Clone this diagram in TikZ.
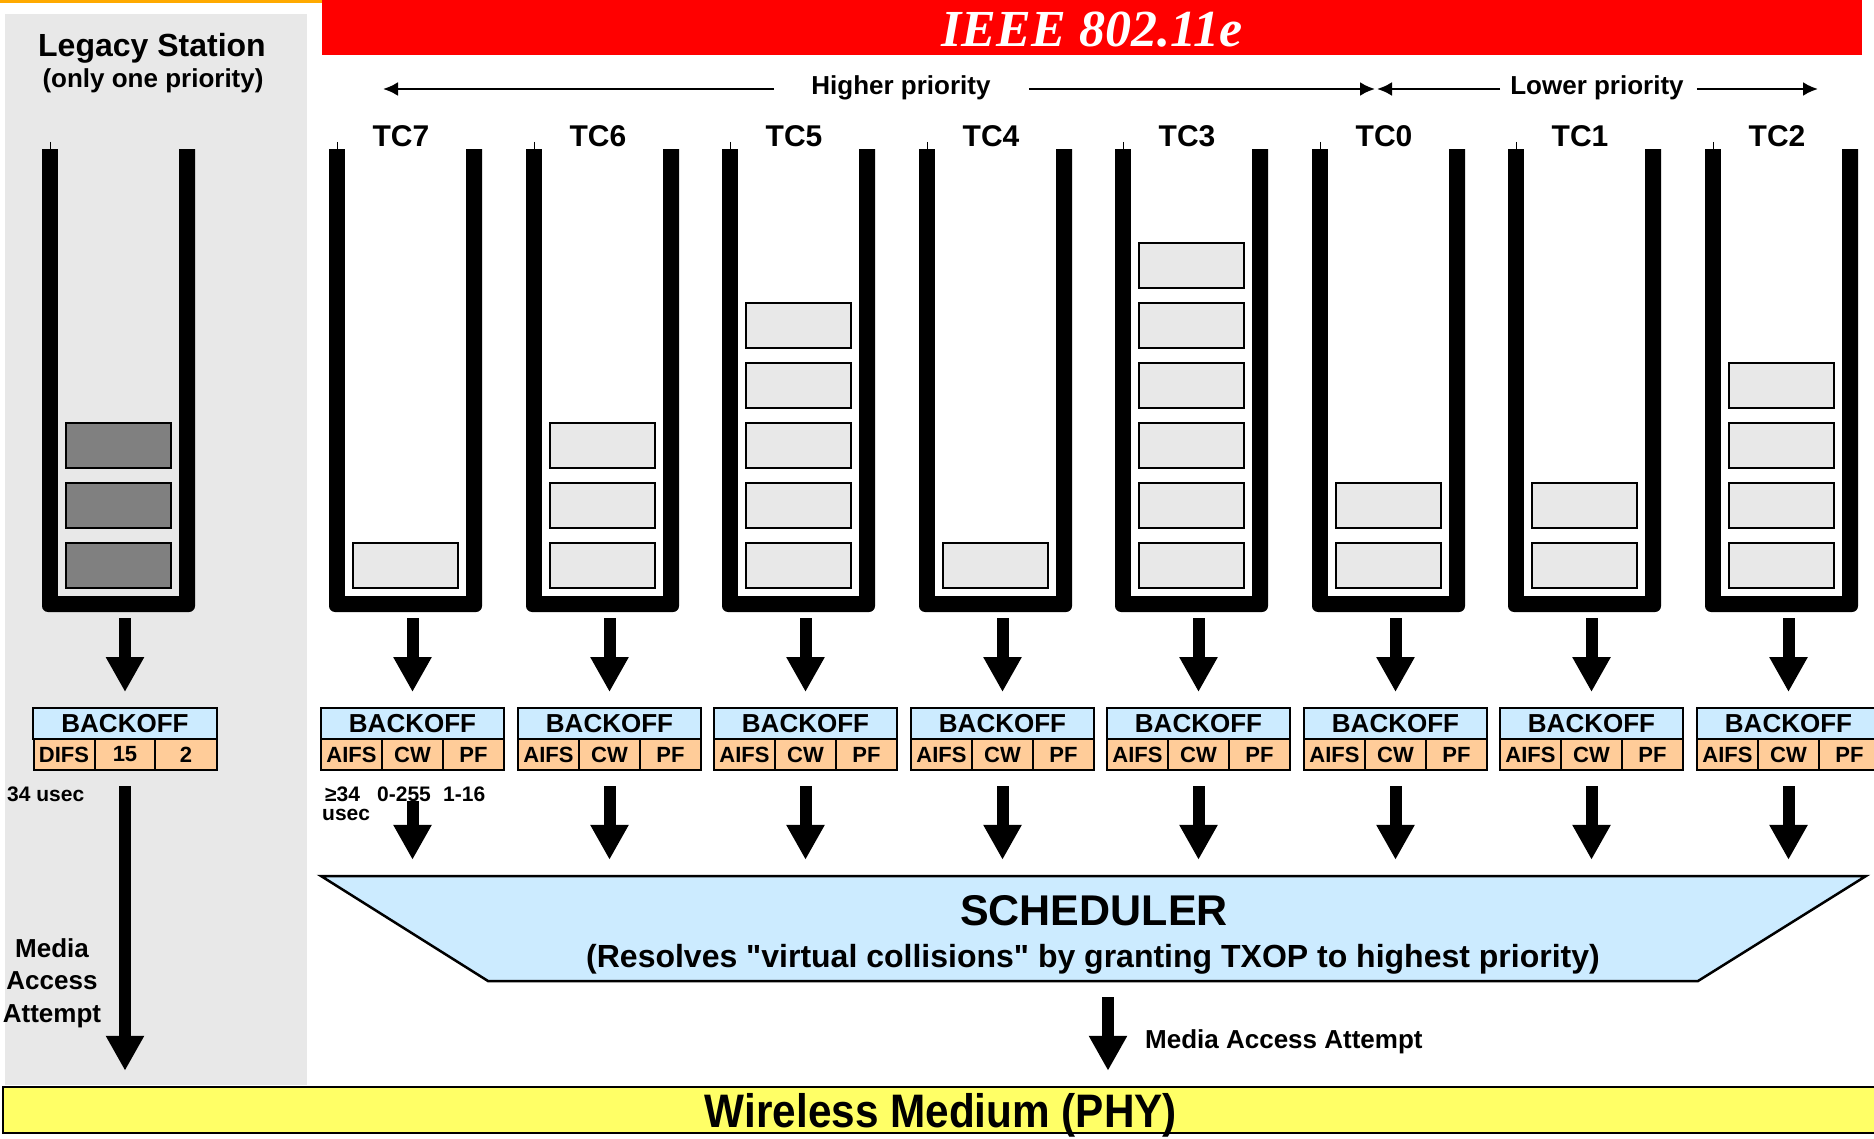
\documentclass[tikz,border=0pt]{standalone}
\usepackage{fontspec}
\usepackage{graphicx}
\setmainfont{Liberation Sans}
\newfontfamily\titlefont{Liberation Serif}
\usetikzlibrary{arrows.meta}
\definecolor{panelgray}{RGB}{232,232,232}
\definecolor{pktgray}{RGB}{232,232,232}
\definecolor{darkpkt}{RGB}{128,128,128}
\definecolor{lblue}{RGB}{204,235,255}
\definecolor{peach}{RGB}{255,204,153}
\definecolor{ylw}{RGB}{255,255,102}
\definecolor{orng}{RGB}{255,170,0}
\definecolor{bannerred}{RGB}{255,0,0}
\newcommand\fsz[1]{\fontsize{#1}{#1}\selectfont\bfseries}
\newcommand\tubeshape[2]{%
  \begin{scope}
    \clip (#1-2,150) rectangle (#1+155,630);
    \fill[black, rounded corners=6pt] (#1,120) rectangle (#1+153,612);
  \end{scope}
  \fill[#2] (#1+16,140) rectangle (#1+137,596);
  \draw[line width=1pt] (#1+8,142) -- (#1+8,150);
}
\begin{document}
\begin{tikzpicture}[x=1pt,y=-1pt,
  packet/.style={draw=black, line width=2pt, fill=pktgray, minimum width=105pt, minimum height=45pt, inner sep=0pt},
  darkpacket/.style={packet, fill=darkpkt},
  tubebox/.style={inner sep=0pt, minimum width=153pt, minimum height=462pt},
  tclabel/.style={font=\fsz{30}, anchor=base, inner sep=0pt},
  botop/.style={draw=black, line width=2pt, fill=lblue, minimum width=183pt, minimum height=31pt, inner sep=0pt, font=\fsz{26}},
  bocell/.style={draw=black, line width=2pt, fill=peach, minimum width=61pt, minimum height=31pt, inner sep=0pt, font=\fsz{22}},
  bigarrow/.style={line width=12pt, -{Triangle[length=35pt, width=36pt]}},
  parr/.style={line width=2.5pt, -{Latex[length=15pt, width=14pt]}},
  txt/.style={inner sep=0pt, anchor=base}
]
\useasboundingbox (0,0) rectangle (1874,1139);
\fill[white] (0,0) rectangle (1874,1139);
\fill[orng] (0,0) rectangle (322,3);
\fill[panelgray] (5,14) rectangle (307,1085);
\fill[bannerred] (322,0) rectangle (1862,55);
\node[txt, text=white, font=\titlefont\fontsize{52}{52}\selectfont\bfseries\itshape] (title) at (1092,47) {IEEE 802.11e};

% legacy station
\node[txt, font=\fsz{32}] (legacy) at (152,57) {Legacy Station};
\node[txt, font=\fsz{26}] (legacy2) at (153,88) {(only one priority)};
\tubeshape{42}{panelgray}
\node[tubebox] (tubeL) at (118.5,381) {};
\foreach \j in {1,2,3} \node[darkpacket] (pL-\j) at (118.5,625.5-60*\j) {};
\node[botop, minimum width=184pt] (boL) at (125,723.5) {BACKOFF};
\node[bocell] (baL) at (64,754.5) {DIFS};
\node[bocell] (bbL) at (125,754.5) {15};
\node[bocell, minimum width=62pt] (bcL) at (186,754.5) {2};
\draw[bigarrow, shorten <=6pt, shorten >=15pt] (tubeL.south -| boL.north) -- (boL.north);
\node[txt, anchor=base west, font=\fsz{21}] (usecL) at (7,801) {34 usec};

% priority arrows
\node[txt, font=\fsz{26}] (hp) at (901,95) {Higher priority};
\node[txt, font=\fsz{26}] (lp) at (1597,95) {Lower priority};
\coordinate (hpA) at (383,89);
\coordinate (hpB) at (1375,89);
\coordinate (lpA) at (1377,89);
\coordinate (lpB) at (1818,89);
\draw[parr, shorten <=37pt] (hp.west |- hpA) -- (hpA);
\draw[parr, shorten <=38pt] (hp.east |- hpB) -- (hpB);
\draw[parr, shorten <=10pt] (lp.west |- lpA) -- (lpA);
\draw[parr, shorten <=13pt] (lp.east |- lpB) -- (lpB);

% scheduler
\draw[line width=2.5pt, fill=lblue] (321,876) -- (1866,876) -- (1698,981) -- (488,981) -- cycle;
\node[inner sep=0pt, minimum width=1545pt, minimum height=105pt] (sched) at (1093.5,928.5) {};
\node[txt, font=\fsz{43}] (schedT) at (1094,925) {SCHEDULER};
\node[txt, font=\fsz{32}] (schedS) at (1093,967) {(Resolves \textquotedbl virtual collisions\textquotedbl\ by granting TXOP to highest priority)};

% wireless medium
\node[draw=black, line width=2.5pt, fill=ylw, minimum width=1876pt, minimum height=46pt, inner sep=0pt] (wm) at (941,1110) {};
\node[txt, font=\fsz{47}] (wmT) at (941,1127) {\scalebox{0.9}[1]{Wireless Medium (PHY)}};

% traffic classes
\foreach \tx/\tn/\tk/\sh in {329/7/1/30,526/6/3/15,722/5/5/15,919/4/1/15,1115/3/6/15,1312/0/2/15,1508/1/2/15,1705/2/4/15}{
  \tubeshape{\tx}{white}
  \node[tubebox] (tube\tn) at (\tx+76.5,381) {};
  \node[tclabel] (tcl\tn) at (\tx+72,147) {TC\tn};
  \foreach \j in {1,...,\tk} \node[packet] (p\tn-\j) at (\tx+76.5,625.5-60*\j) {};
  \node[botop] (bo\tn) at (\tx+83.5,723.5) {BACKOFF};
  \node[bocell] (ba\tn) at (\tx+22.5,754.5) {AIFS};
  \node[bocell] (bb\tn) at (\tx+83.5,754.5) {CW};
  \node[bocell] (bc\tn) at (\tx+144.5,754.5) {PF};
  \draw[bigarrow, shorten <=6pt, shorten >=15pt] (tube\tn.south -| bo\tn.north) -- (bo\tn.north);
  \draw[bigarrow, shorten <=\sh pt, shorten >=16pt] (bb\tn.south) -- (bb\tn.south |- sched.north);
}
\node[txt, anchor=base west, font=\fsz{21}] (aifsv) at (325,801) {≥34};
\node[txt, anchor=base west, font=\fsz{21}] (aifsu) at (322,820) {usec};
\node[txt, anchor=base west, font=\fsz{21}] (cwv) at (377,801) {0-255};
\node[txt, anchor=base west, font=\fsz{21}] (pfv) at (443,801) {1-16};

% media access attempts
\draw[bigarrow, shorten <=15pt, shorten >=15pt] (bbL.south) -- (bbL.south |- wm.north);
\node[inner sep=0pt, anchor=north, align=center, font=\fontsize{26}{32.5}\selectfont\bfseries] (maL) at (52,938) {Media\\Access\\Attempt};
\coordinate (mao) at (1108,981);
\draw[bigarrow, shorten <=16pt, shorten >=15pt] (mao) -- (mao |- wm.north);
\node[txt, anchor=base west, font=\fsz{26}] (maR) at (1145,1048) {Media Access Attempt};
\end{tikzpicture}
\end{document}
